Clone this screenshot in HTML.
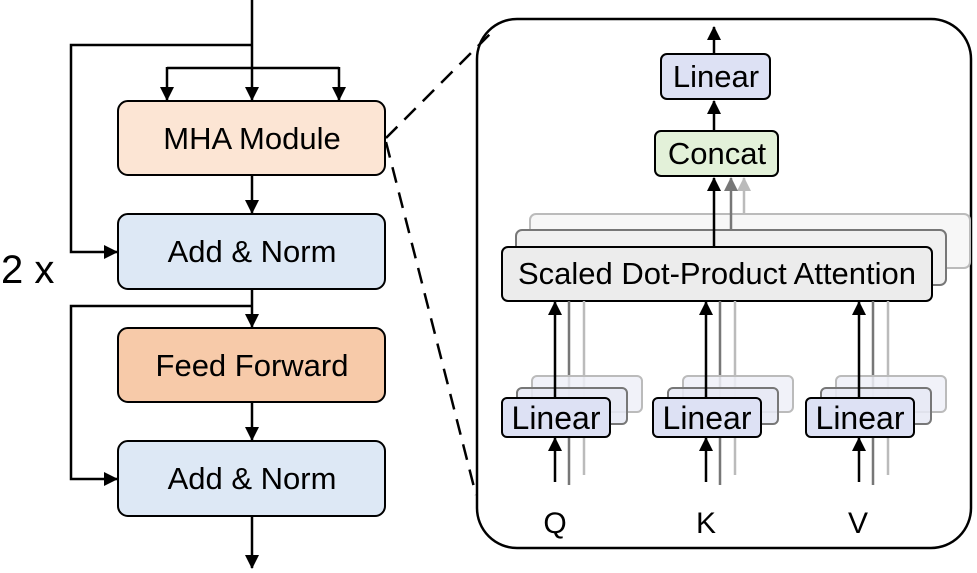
<!DOCTYPE html>
<html><head><meta charset="utf-8"><style>html,body{margin:0;padding:0;background:#fff}svg{display:block}text{font-family:"Liberation Sans",sans-serif;fill:#000}</style></head><body>
<svg width="977" height="573" viewBox="0 0 977 573" xmlns="http://www.w3.org/2000/svg">
<defs>
<marker id="a" markerWidth="14" markerHeight="14" refX="13" refY="7" orient="auto" markerUnits="userSpaceOnUse"><path d="M0,0 L14,7 L0,14 Z" fill="#000"/></marker>
<marker id="ag" markerWidth="14" markerHeight="14" refX="13" refY="7" orient="auto" markerUnits="userSpaceOnUse"><path d="M0,0 L14,7 L0,14 Z" fill="#777"/></marker>
<marker id="al" markerWidth="14" markerHeight="14" refX="13" refY="7" orient="auto" markerUnits="userSpaceOnUse"><path d="M0,0 L14,7 L0,14 Z" fill="#bbb"/></marker>
</defs>
<g stroke="#000" stroke-width="2.5" fill="none">
<line x1="252" y1="0" x2="252" y2="100" marker-end="url(#a)"/>
<polyline points="252,45 71,45 71,252 117,252" marker-end="url(#a)"/>
<line x1="167" y1="68" x2="339" y2="68"/>
<line x1="167" y1="67" x2="167" y2="100" marker-end="url(#a)"/>
<line x1="339" y1="67" x2="339" y2="100" marker-end="url(#a)"/>
<line x1="252" y1="175" x2="252" y2="213" marker-end="url(#a)"/>
<line x1="252" y1="289" x2="252" y2="327" marker-end="url(#a)"/>
<polyline points="252,306 71,306 71,479 117,479" marker-end="url(#a)"/>
<line x1="252" y1="402" x2="252" y2="440" marker-end="url(#a)"/>
<line x1="252" y1="516" x2="252" y2="568" marker-end="url(#a)"/>
</g>
<g stroke="#000" stroke-width="2">
<rect x="118" y="101" width="267" height="74" rx="10" fill="#fce5d4"/>
<rect x="118" y="214" width="267" height="75" rx="10" fill="#dde8f5"/>
<rect x="118" y="328" width="267" height="74" rx="10" fill="#f7caa9"/>
<rect x="118" y="441" width="267" height="75" rx="10" fill="#dde8f5"/>
</g>
<g font-size="31" text-anchor="middle">
<text x="252" y="149">MHA Module</text>
<text x="252" y="262">Add &amp; Norm</text>
<text x="252" y="376">Feed Forward</text>
<text x="252" y="489">Add &amp; Norm</text>
</g>
<text x="1" y="283" font-size="40">2 x</text>
<g stroke="#000" stroke-width="2.5" stroke-dasharray="16,10" fill="none">
<line x1="386" y1="138" x2="490" y2="34"/>
<line x1="386" y1="142" x2="476" y2="495"/>
</g>
<rect x="477" y="19" width="494" height="529" rx="40" fill="none" stroke="#000" stroke-width="2.5"/>
<rect x="530" y="214" width="440" height="54" rx="6" fill="#f7f7f7" stroke="#bbb" stroke-width="2"/>
<rect x="516" y="230" width="430" height="55" rx="6" fill="#f0f0f0" stroke="#777" stroke-width="2"/>
<line x1="744" y1="214" x2="744" y2="178" stroke="#bbb" stroke-width="2.5" marker-end="url(#al)"/>
<line x1="731" y1="230" x2="731" y2="178" stroke="#777" stroke-width="2.5" marker-end="url(#ag)"/>
<rect x="502" y="247" width="430" height="54" rx="6" fill="#ececec" stroke="#000" stroke-width="2"/>
<text x="717" y="284" font-size="31" text-anchor="middle">Scaled Dot-Product Attention</text>
<line x1="714" y1="247" x2="714" y2="178" stroke="#000" stroke-width="2.5" marker-end="url(#a)"/>
<rect x="655" y="131" width="123" height="45" rx="6" fill="#e3f1d9" stroke="#000" stroke-width="2"/>
<text x="717" y="164" font-size="31" text-anchor="middle">Concat</text>
<line x1="714" y1="131" x2="714" y2="101" stroke="#000" stroke-width="2.5" marker-end="url(#a)"/>
<rect x="661" y="54" width="109" height="45" rx="6" fill="#dde1f4" stroke="#000" stroke-width="2"/>
<text x="716" y="87" font-size="31" text-anchor="middle">Linear</text>
<line x1="714" y1="54" x2="714" y2="27" stroke="#000" stroke-width="2.5" marker-end="url(#a)"/>
<g id="q">
<line x1="584" y1="301" x2="584" y2="475" stroke="#bbb" stroke-width="2.5"/>
<line x1="569" y1="301" x2="569" y2="485" stroke="#777" stroke-width="2.5"/>
<rect x="532" y="376" width="110" height="36" rx="5" fill="#eef0f8" fill-opacity="0.85" stroke="#bbb" stroke-width="2"/>
<rect x="517" y="388" width="110" height="36" rx="5" fill="#e6e9f5" fill-opacity="0.85" stroke="#777" stroke-width="2"/>
<rect x="502" y="398" width="108" height="39" rx="5" fill="#dde1f4" stroke="#000" stroke-width="2"/>
<line x1="555" y1="398" x2="555" y2="302" stroke="#000" stroke-width="2.5" marker-end="url(#a)"/>
<line x1="555" y1="482" x2="555" y2="438" stroke="#000" stroke-width="2.5" marker-end="url(#a)"/>
</g>
<use href="#q" transform="translate(151,0)"/>
<use href="#q" transform="translate(304,0)"/>
<g font-size="32" text-anchor="middle">
<text x="556" y="429">Linear</text>
<text x="707" y="429">Linear</text>
<text x="860" y="429">Linear</text>
</g>
<g font-size="30" text-anchor="middle">
<text x="555" y="533">Q</text>
<text x="706" y="533">K</text>
<text x="858" y="533">V</text>
</g>
</svg>
</body></html>
